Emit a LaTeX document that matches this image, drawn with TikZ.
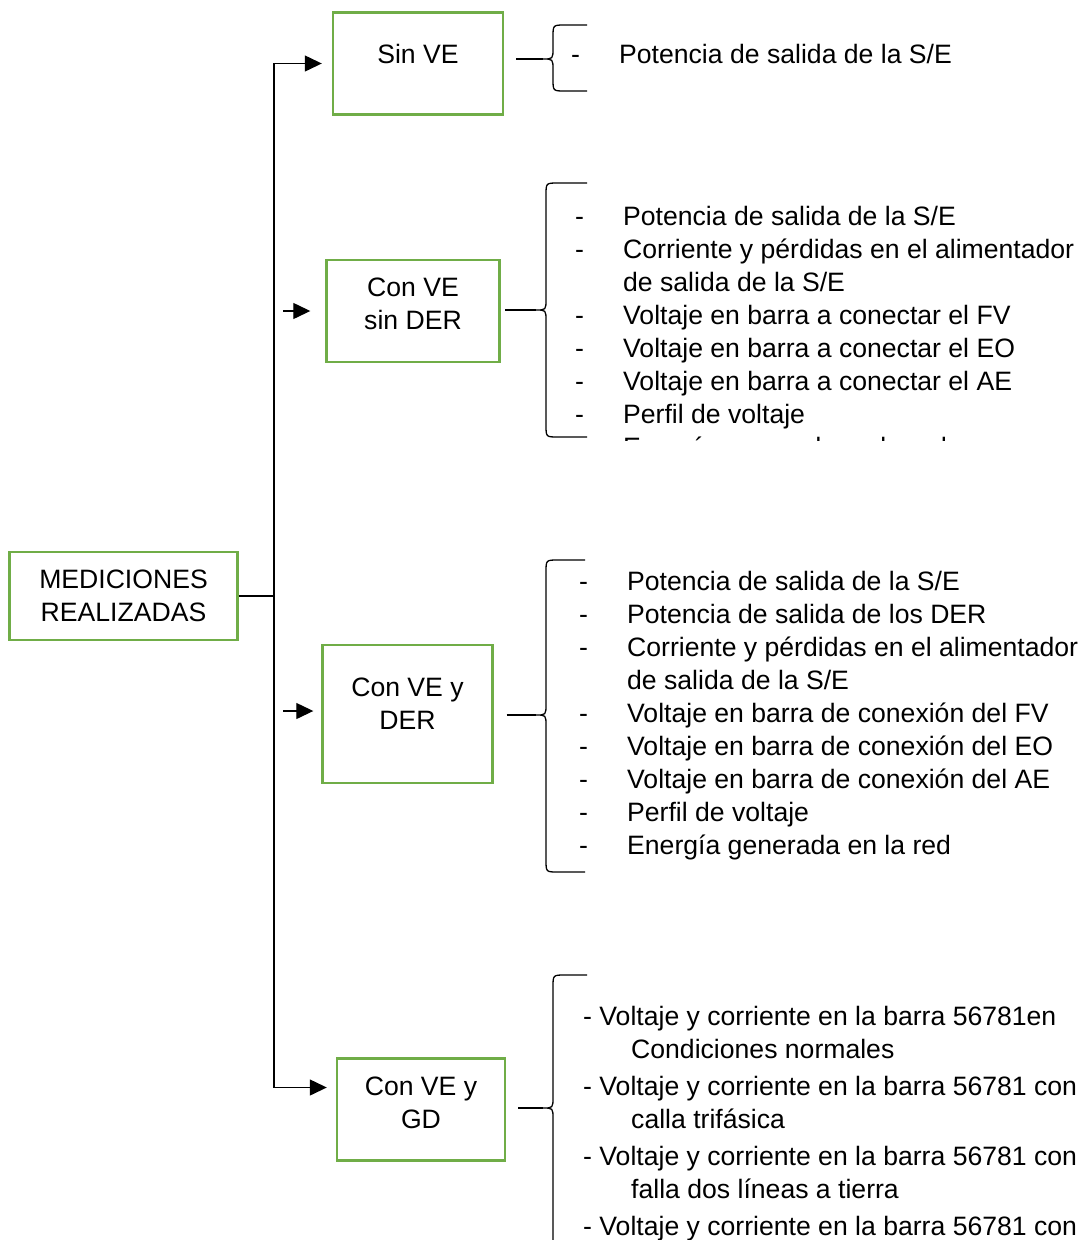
\documentclass[tikz,border=0pt]{standalone}
\usepackage{fontspec}
\setmainfont{Liberation Sans}
\usepackage{array}
\usetikzlibrary{arrows.meta, positioning}

\definecolor{boxgreen}{RGB}{112,173,71}

% curly brace: x of the spine, top y, tip y, bottom y, x of the ends, name of the tip
\newcommand{\curlybrace}[6]{%
  \coordinate (#6) at (#1-10,#3);
  \draw[line] (#5,#2) -- (#1+12,#2) .. controls (#1,#2) .. (#1,#2+12)
    -- (#1,#3-11) .. controls (#1,#3) .. (#6)
    .. controls (#1,#3) .. (#1,#3+11)
    -- (#1,#4-12) .. controls (#1,#4) .. (#1+12,#4) -- (#5,#4);
}

\begin{document}
\begin{tikzpicture}[x=1pt, y=-1pt,
    font=\fontsize{26.6}{33}\selectfont,
    box/.style={draw=boxgreen, line width=2.4pt, minimum width=170pt, minimum height=102pt},
    line/.style={line width=1.3pt},
    arrow/.style={line, -{Triangle[length=17pt, width=16pt]}}
]
\useasboundingbox (0,0) rectangle (1084,1240);

% Boxes
\node[box, minimum width=228pt, minimum height=88pt, align=center] (main) at (123.5,596) {MEDICIONES\\REALIZADAS};
\node[box, label={[yshift=10pt]center:Sin VE}] (sinve) at (418,63.5) {};
\node[box, minimum width=173pt, label={[align=center, yshift=7pt]center:Con VE\\sin DER}] (sinder) at (413,311) {};
\node[box, minimum height=138pt, label={[align=center, yshift=10.5pt]center:Con VE y\\DER}] (conder) at (407.5,714) {};
\node[box, minimum width=168pt, label={[align=center, yshift=6.5pt]center:Con VE y\\GD}] (congd) at (421,1109.5) {};

% Trunk and arrows
\coordinate (trunk) at (274,596);
\coordinate (a2) at (283,311);
\coordinate (a3) at (283,711);
\draw[line] (main.east) -- (trunk);
\draw[arrow, shorten >=10pt] (trunk) |- (sinve.west);
\draw[arrow, shorten >=9pt] (trunk) |- ([yshift=22pt]congd.west);
\draw[arrow, shorten >=15pt] (a2) -- (sinder.west);
\draw[arrow, shorten >=8pt] (a3) -- (a3 -| conder.west);

% Braces
\curlybrace{553}{25}{59}{91}{587}{c1}
\curlybrace{546}{183}{310}{437}{587}{c2}
\curlybrace{546}{560}{715}{872}{585}{c3}
\curlybrace{553}{975}{1108}{1250}{587}{c4}
\draw[line, shorten <=12pt] (sinve.east |- c1) -- (c1);
\draw[line, shorten <=4.5pt] (sinder.east |- c2) -- (c2);
\draw[line, shorten <=13pt] (conder.east |- c3) -- (c3);
\draw[line, shorten <=12pt] (congd.east |- c4) -- (c4);

% Lists
\node[anchor=base west, inner sep=0pt] (list1) at (571,63) {%
  \begin{tabular}[t]{@{}p{48pt}@{}l@{}}
  - & Potencia de salida de la S/E
  \end{tabular}};

\begin{scope}
\clip (560,170) rectangle (1084,440.5);
\node[anchor=base west, inner sep=0pt] (list2) at (575,225) {%
  \begin{tabular}[t]{@{}p{48pt}@{}l@{}}
  - & Potencia de salida de la S/E\\
  - & Corriente y pérdidas en el alimentador\\
    & de salida de la S/E\\
  - & Voltaje en barra a conectar el FV\\
  - & Voltaje en barra a conectar el EO\\
  - & Voltaje en barra a conectar el AE\\
  - & Perfil de voltaje\\
  - & Energía generada en la red
  \end{tabular}};
\end{scope}

\node[anchor=base west, inner sep=0pt] (list3) at (579,590.5) {%
  \begin{tabular}[t]{@{}p{48pt}@{}l@{}}
  - & Potencia de salida de la S/E\\
  - & Potencia de salida de los DER\\
  - & Corriente y pérdidas en el alimentador\\
    & de salida de la S/E\\
  - & Voltaje en barra de conexión del FV\\
  - & Voltaje en barra de conexión del EO\\
  - & Voltaje en barra de conexión del AE\\
  - & Perfil de voltaje\\
  - & Energía generada en la red
  \end{tabular}};

\node[anchor=base west, inner sep=0pt] (list4) at (583,1025) {%
  \begin{tabular}[t]{@{}l@{}}
  - Voltaje y corriente en la barra 56781en\\
  \hspace*{48pt}Condiciones normales\\[4pt]
  - Voltaje y corriente en la barra 56781 con\\
  \hspace*{48pt}calla trifásica\\[4pt]
  - Voltaje y corriente en la barra 56781 con\\
  \hspace*{48pt}falla dos líneas a tierra\\[4pt]
  - Voltaje y corriente en la barra 56781 con
  \end{tabular}};

\end{tikzpicture}
\end{document}
